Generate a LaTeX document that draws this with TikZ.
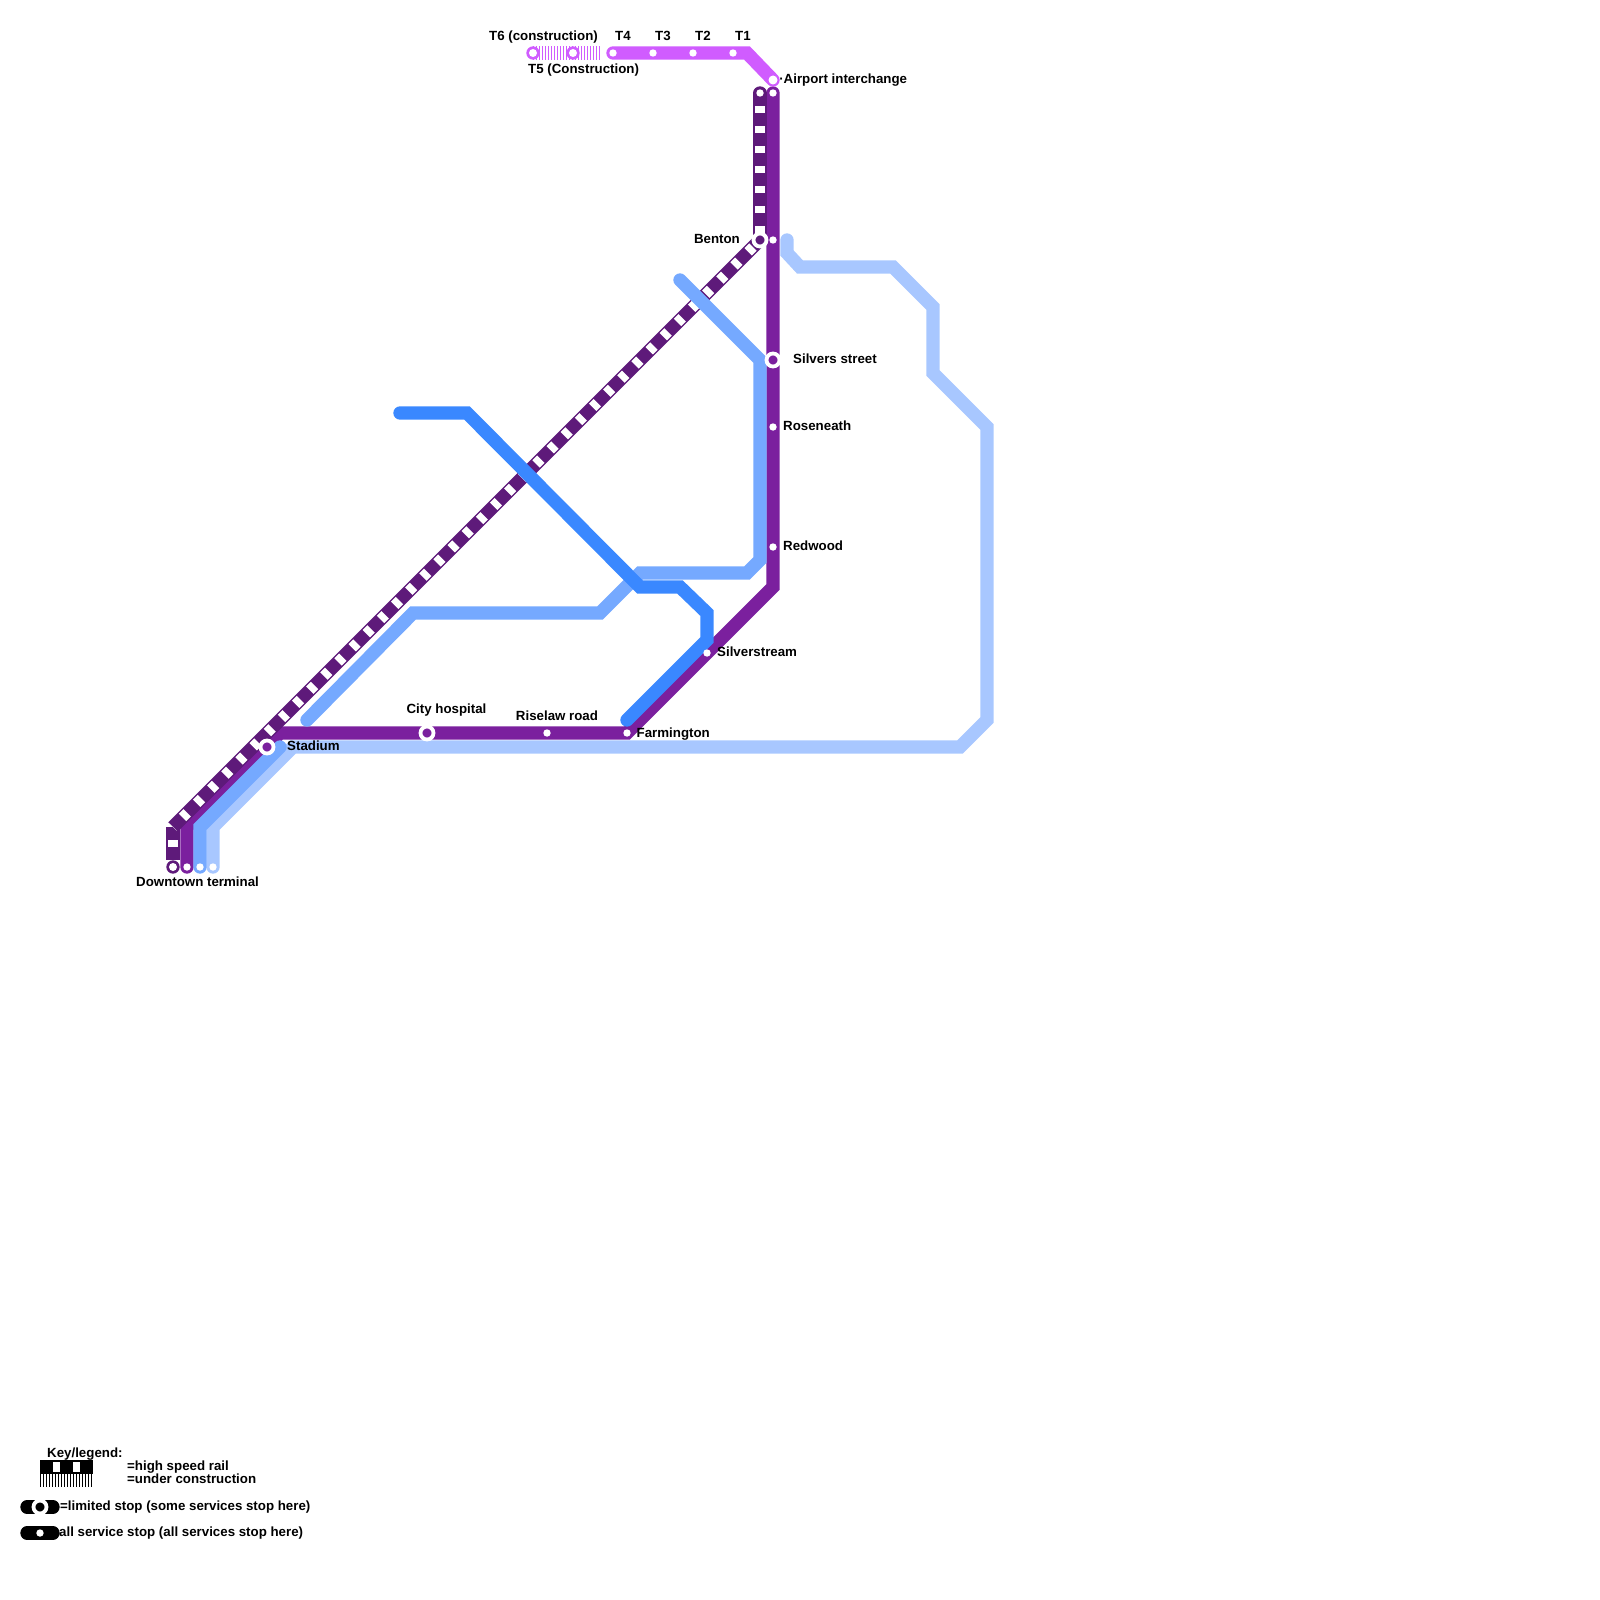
\documentclass[tikz,border=0pt]{standalone}
\usepackage{fontspec}
\setmainfont{Liberation Sans}
\usetikzlibrary{backgrounds}
\definecolor{DP}{RGB}{94,26,122}
\definecolor{PU}{RGB}{123,32,158}
\definecolor{MG}{RGB}{208,92,255}
\definecolor{LB}{RGB}{168,199,255}
\definecolor{MB}{RGB}{117,169,255}
\definecolor{SB}{RGB}{58,136,255}
\begin{document}
\begin{tikzpicture}[
  x=1pt, y=-1pt,
  line/.style={draw=#1, line width=13.33pt, line cap=round, line join=miter},
  hsr/.style={draw=#1, line width=13.33pt},
  hsrgap/.style={draw=white, line width=10.5pt, dash pattern=on 6.67pt off 13.33pt},
  uc/.style={draw=#1, line width=13.33pt, dash pattern=on 1.33pt off 1.67pt},
  stp/.style={circle, fill=white, inner sep=0pt, minimum size=7.4pt},
  big/.style={circle, fill=white, inner sep=0pt, minimum size=8pt},
  lim/.style={circle, draw=white, line width=3.8pt, fill=#1, inner sep=0pt, minimum size=13pt},
  lab/.style={font=\fontsize{13.3}{14}\selectfont\bfseries, inner sep=0pt, anchor=base west},
  labc/.style={lab, anchor=base},
  labe/.style={lab, anchor=base east}
]
\useasboundingbox (0,0) rectangle (1600,1600);

% Stops
\node[big] (t6)  at (533,53) {};
\node[big] (t5)  at (573,53) {};
\node[stp] (t4)  at (613,53) {};
\node[stp] (t3)  at (653,53) {};
\node[stp] (t2)  at (693,53) {};
\node[stp] (t1)  at (733,53) {};
\node[big, minimum size=9pt] (air) at (773,80) {};
\node[stp] (hst) at (760,93) {};
\node[stp] (put) at (773,93) {};
\node[lim=DP] (ben) at (760,240) {};
\node[stp] (bep) at (773,240) {};
\node[lim=PU] (sil) at (773,360) {};
\node[stp] (ros) at (773,427) {};
\node[stp] (red) at (773,547) {};
\node[stp] (sst) at (707,653) {};
\node[stp] (far) at (627,733) {};
\node[stp] (ris) at (547,733) {};
\node[lim=PU] (hos) at (427,733) {};
\node[lim=PU] (sta) at (267,747) {};
\node[big] (dhs) at (173,867) {};
\node[stp] (dpu) at (187,867) {};
\node[stp] (dmb) at (200,867) {};
\node[stp] (dlb) at (213,867) {};
\coordinate (hj)  at (173,827);
\coordinate (t6e) at (600,53);
\coordinate (lbs) at (787,240);
\coordinate (mbs) at (680,280);
\coordinate (mbe) at (307,720);
\coordinate (mbt) at (280,747);
\coordinate (sbs) at (400,413);
\coordinate (sbe) at (627,720);

% Lines
\begin{scope}[on background layer]
\draw[line=LB] (lbs)--(787,253)--(800,267)--(893,267)--(933,307)--(933,373)--(987,427)--(987,720)--(960,747)--(293,747)--(213,827)--(dlb.center);
\draw[line=PU] (put.center)--(773,587)--(627,733)--(280,733)--(187,827)--(dpu.center);
\draw[line=MG] (t4.center)--(747,53)--(air.center);
\draw[uc=MG] (t6.center)--(t6e);
\fill[MG] (t6.center) circle (6.67pt);
\fill[MG] (t5.center) circle (6.67pt);
% High speed line
\draw[line=DP] (hst.center)--(ben.center);
\draw[hsr=DP] (ben.center)--(hj);
\draw[hsr=DP] (hj)--(173,860);
\draw[hsrgap, dash phase=6.67pt] (hst.center)--(ben.center);
\draw[hsrgap, dash phase=10pt] (ben.center)--(hj);
\draw[hsrgap, dash phase=7pt] (hj)--(dhs.center);
\fill[DP] (dhs.center) circle (6.67pt);
\draw[line=MB] (mbs)--(760,360)--(760,560)--(747,573)--(640,573)--(600,613)--(413,613)--(mbe);
\draw[line=MB] (mbt)--(200,827)--(dmb.center);
\draw[line=SB] (sbs)--(467,413)--(640,587)--(680,587)--(707,613)--(707,640)--(sbe);
\end{scope}

% Labels
\node[labc] (lt6) at (543.5,41) {T6 (construction)};
\node[lab]  (lt5) at (528,74) {T5 (Construction)};
\node[labc] (lt4) at (623,41) {T4};
\node[labc] (lt3) at (663,41) {T3};
\node[labc] (lt2) at (703,41) {T2};
\node[labc] (lt1) at (743,41) {T1};
\node[lab]  (lair) at (783.5,84) {\llap{·}Airport interchange};
\node[labe] (lben) at (740,243) {Benton};
\node[lab]  (lsil) at (793,363) {Silvers street};
\node[lab]  (lros) at (783,430) {Roseneath};
\node[lab]  (lred) at (783,550) {Redwood};
\node[lab]  (lsst) at (717,656.5) {Silverstream};
\node[lab]  (lfar) at (636.5,737) {Farmington};
\node[labc] (lris) at (557,720) {Riselaw road};
\node[labc] (lhos) at (446.5,713.5) {City hospital};
\node[lab]  (lsta) at (287,750) {Stadium};
\node[lab]  (ldow) at (136,886.5) {Downtown ter\rlap{\kern-1pt.}minal};

% Key
\coordinate (ka) at (40,1467);
\coordinate (kb) at (93,1467);
\coordinate (kc) at (40,1480);
\coordinate (kd) at (93,1480);
\coordinate (ke) at (27,1507);
\coordinate (kf) at (53,1507);
\coordinate (kg) at (27,1533);
\coordinate (kh) at (53,1533);
\draw[hsr=black] (ka)--(kb);
\draw[hsrgap, dash phase=6.67pt] (ka)--(kb);
\draw[uc=black] (kc)--(kd);
\draw[line=black] (ke)--(kf);
\draw[line=black] (kg)--(kh);
\node[lim=black] (klim) at (40,1507) {};
\node[stp] (kall) at (40,1533) {};
\node[lab] (lkey) at (47,1457) {Key/legend:};
\node[lab] (lhsr) at (127,1470) {=high speed rail};
\node[lab] (luc)  at (127,1483) {=under construction};
\node[lab] (llim) at (60,1510.5) {=limited stop (some services stop here)};
\node[lab] (lall) at (59,1536.5) {all service stop (all services stop here)};
\end{tikzpicture}
\end{document}
